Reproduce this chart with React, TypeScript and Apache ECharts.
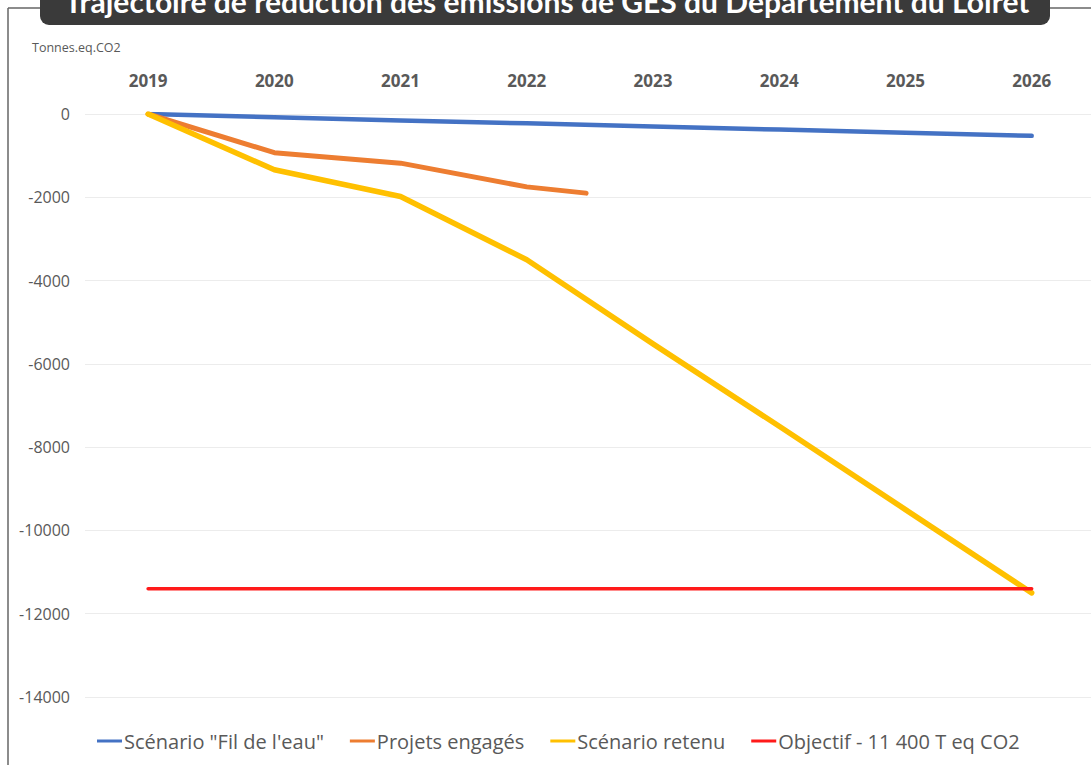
import React, { useEffect, useRef } from "react";
import * as echarts from "echarts";

const TITLE = "Trajectoire de réduction des émissions de GES du Département du Loiret";
const UNIT_LABEL = "Tonnes.eq.CO2";

const years = [2019, 2020, 2021, 2022, 2023, 2024, 2025, 2026];
const filDeLeau = [0, -80, -155, -225, -300, -375, -450, -525];
const projetsYears = [2019, 2020, 2021, 2022, 2022.47];
const projetsEngages = [0, -930, -1180, -1750, -1900];
const scenarioRetenu = [0, -1340, -1980, -3500, -5520, -7500, -9500, -11500];
const objectif = [-11400, -11400, -11400, -11400, -11400, -11400, -11400, -11400];

const seriesNames = [
  'Scénario "Fil de l\'eau"',
  "Projets engagés",
  "Scénario retenu",
  "Objectif - 11 400 T eq CO2",
];
const colors = ["#4472C4", "#ED7D31", "#FFC000", "#FF1A1A"];

const pair = (xs: number[], ys: number[]) => xs.map((x, i) => [x, ys[i]]);

export default function App() {
  const ref = useRef<HTMLDivElement>(null);
  useEffect(() => {
    document.body.style.margin = "0";
    if (!ref.current) return;
    const chart = echarts.init(ref.current, null, { renderer: "svg" });
    const font = "'Open Sans', sans-serif";
    const mk = (i: number, data: number[][], width: number) => ({
      name: seriesNames[i],
      type: "line",
      data,
      showSymbol: false,
      symbol: "none",
      lineStyle: { color: colors[i], width, cap: "round", join: "round" },
      itemStyle: { color: colors[i] },
    });
    chart.setOption({
      animation: false,
      backgroundColor: "#ffffff",
      grid: { left: 85, right: 0, top: 114, bottom: 68, containLabel: false },
      xAxis: {
        type: "value",
        position: "top",
        min: 2018.5,
        max: 2026.47,
        interval: 0.5,
        axisLine: { show: false },
        axisTick: { show: false },
        splitLine: { show: false },
        axisLabel: {
          margin: 25,
          color: "#595959",
          fontFamily: font,
          fontWeight: "bold",
          fontSize: 17,
          showMaxLabel: false,
          formatter: (v: number) => (Number.isInteger(v) && years.includes(v) ? String(v) : ""),
        },
      },
      yAxis: {
        type: "value",
        min: -14000,
        max: 0,
        interval: 2000,
        axisLine: { show: false },
        axisTick: { show: false },
        splitLine: { lineStyle: { color: "#ececec", width: 1 } },
        axisLabel: {
          margin: 15,
          color: "#595959",
          fontFamily: font,
          fontSize: 16,
          formatter: (v: number) => String(v),
        },
      },
      legend: {
        left: 92,
        top: 726,
        itemWidth: 25,
        itemHeight: 3,
        itemGap: 26,
        icon: "rect",
        data: seriesNames,
        textStyle: { color: "#595959", fontFamily: font, fontSize: 20, padding: [0, 0, 0, -3] },
      },
      series: [
        mk(0, pair(years, filDeLeau), 4.5),
        mk(1, pair(projetsYears, projetsEngages), 5),
        mk(2, pair(years, scenarioRetenu), 5.5),
        mk(3, pair(years, objectif), 3.5),
      ],
      graphic: [
        { type: "line", shape: { x1: 8, y1: 8, x2: 8, y2: 765 }, style: { stroke: "#666666", lineWidth: 1.5 } },
        { type: "line", shape: { x1: 8, y1: 8, x2: 42, y2: 8 }, style: { stroke: "#666666", lineWidth: 1.5 } },
        { type: "line", shape: { x1: 1048, y1: 8, x2: 1091, y2: 8 }, style: { stroke: "#666666", lineWidth: 1.5 } },
        {
          type: "rect",
          shape: { x: 40, y: -20, width: 1010, height: 45, r: 9 },
          style: { fill: "#3a3a3a" },
        },
        {
          type: "text",
          x: 547,
          y: 1,
          style: {
            text: TITLE,
            fill: "#ffffff",
            font: "bold 30px Lato, 'Open Sans', sans-serif",
            align: "center",
            verticalAlign: "middle",
          },
        },
        {
          type: "text",
          x: 32,
          y: 47,
          style: {
            text: UNIT_LABEL,
            fill: "#595959",
            font: "12.5px 'Open Sans', sans-serif",
            align: "left",
            verticalAlign: "middle",
          },
        },
      ],
    });
    return () => chart.dispose();
  }, []);
  return <div ref={ref} style={{ width: 1091, height: 765 }} />;
}
